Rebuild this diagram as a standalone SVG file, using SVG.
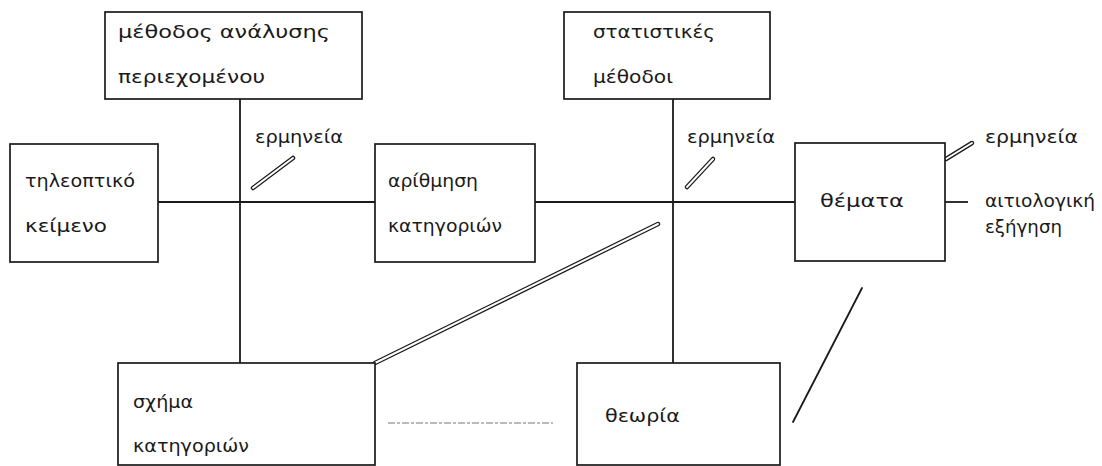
<svg xmlns="http://www.w3.org/2000/svg" width="1102" height="466" viewBox="0 0 1102 466">
<style>
.box{fill:#fff;stroke:#1a1a1a;stroke-width:1.7}
.ln{stroke:#1a1a1a;stroke-width:1.8;fill:none}
.dblo{stroke:#1a1a1a;stroke-width:4.5;stroke-linecap:round;fill:none}
.dbli{stroke:#fff;stroke-width:2;stroke-linecap:round;fill:none}
.t{font-family:"DejaVu Sans","Noto Sans",sans-serif;font-size:18px;fill:#1a1a1a}
</style>
<rect width="1102" height="466" fill="#fff"/>
<g id="connectors">
<line class="ln" x1="158" y1="202" x2="375" y2="202"/>
<line class="ln" x1="535" y1="202" x2="795" y2="202"/>
<line class="ln" x1="240" y1="99" x2="240" y2="363"/>
<line class="ln" x1="673" y1="99" x2="673" y2="363"/>
<line class="ln" x1="945" y1="202" x2="968" y2="202"/>
<line x1="388" y1="423" x2="553" y2="423" stroke="#777" stroke-width="1" stroke-dasharray="7 2 3 2"/>
<line class="ln" x1="862" y1="288" x2="793" y2="422" stroke-width="2.6" stroke-linecap="round"/>
<line class="dblo" x1="375" y1="363" x2="658" y2="224" stroke-width="3.6"/>
<line class="dbli" x1="375" y1="363" x2="658" y2="224" stroke-width="1.4"/>
<line class="dblo" x1="253" y1="188" x2="293" y2="158"/>
<line class="dbli" x1="253" y1="188" x2="293" y2="158"/>
<line class="dblo" x1="687" y1="187" x2="713" y2="159"/>
<line class="dbli" x1="687" y1="187" x2="713" y2="159"/>
<line class="dblo" x1="946" y1="159" x2="972" y2="143" stroke-width="3.6"/>
<line class="dbli" x1="946" y1="159" x2="972" y2="143" stroke-width="1.4"/>
</g>
<g id="n-methodos">
<rect class="box" x="105" y="12" width="257" height="87"/>
<text class="t" x="118" y="38" textLength="212" lengthAdjust="spacingAndGlyphs">μέθοδος ανάλυσης</text>
<text class="t" x="118" y="83" textLength="147" lengthAdjust="spacingAndGlyphs">περιεχομένου</text>
</g>
<g id="n-statistikes">
<rect class="box" x="564" y="12" width="206" height="87"/>
<text class="t" x="593" y="38" textLength="122" lengthAdjust="spacingAndGlyphs">στατιστικές</text>
<text class="t" x="593" y="83" textLength="80" lengthAdjust="spacingAndGlyphs">μέθοδοι</text>
</g>
<g id="n-tileoptiko">
<rect class="box" x="10" y="144" width="148" height="118"/>
<text class="t" x="25" y="187" textLength="110" lengthAdjust="spacingAndGlyphs">τηλεοπτικό</text>
<text class="t" x="25" y="232" textLength="82" lengthAdjust="spacingAndGlyphs">κείμενο</text>
</g>
<g id="n-arithmisi">
<rect class="box" x="375" y="144" width="160" height="118"/>
<text class="t" x="388" y="187" textLength="90" lengthAdjust="spacingAndGlyphs">αρίθμηση</text>
<text class="t" x="388" y="232" textLength="114" lengthAdjust="spacingAndGlyphs">κατηγοριών</text>
</g>
<g id="n-themata">
<rect class="box" x="795" y="143" width="150" height="118"/>
<text class="t" x="820" y="207" textLength="84" lengthAdjust="spacingAndGlyphs">θέματα</text>
</g>
<g id="n-schima">
<rect class="box" x="118" y="363" width="257" height="102"/>
<text class="t" x="133" y="408" textLength="60" lengthAdjust="spacingAndGlyphs">σχήμα</text>
<text class="t" x="133" y="452" textLength="116" lengthAdjust="spacingAndGlyphs">κατηγοριών</text>
</g>
<g id="n-theoria">
<rect class="box" x="577" y="363" width="203" height="102"/>
<text class="t" x="605" y="422" textLength="75" lengthAdjust="spacingAndGlyphs">θεωρία</text>
</g>
<g id="labels">
<text class="t" x="255" y="143" textLength="88" lengthAdjust="spacingAndGlyphs">ερμηνεία</text>
<text class="t" x="687" y="143" textLength="88" lengthAdjust="spacingAndGlyphs">ερμηνεία</text>
<text class="t" x="985" y="143" textLength="93" lengthAdjust="spacingAndGlyphs">ερμηνεία</text>
<text class="t" x="985" y="207" textLength="110" lengthAdjust="spacingAndGlyphs">αιτιολογική</text>
<text class="t" x="985" y="233" textLength="77" lengthAdjust="spacingAndGlyphs">εξήγηση</text>
</g>
</svg>
